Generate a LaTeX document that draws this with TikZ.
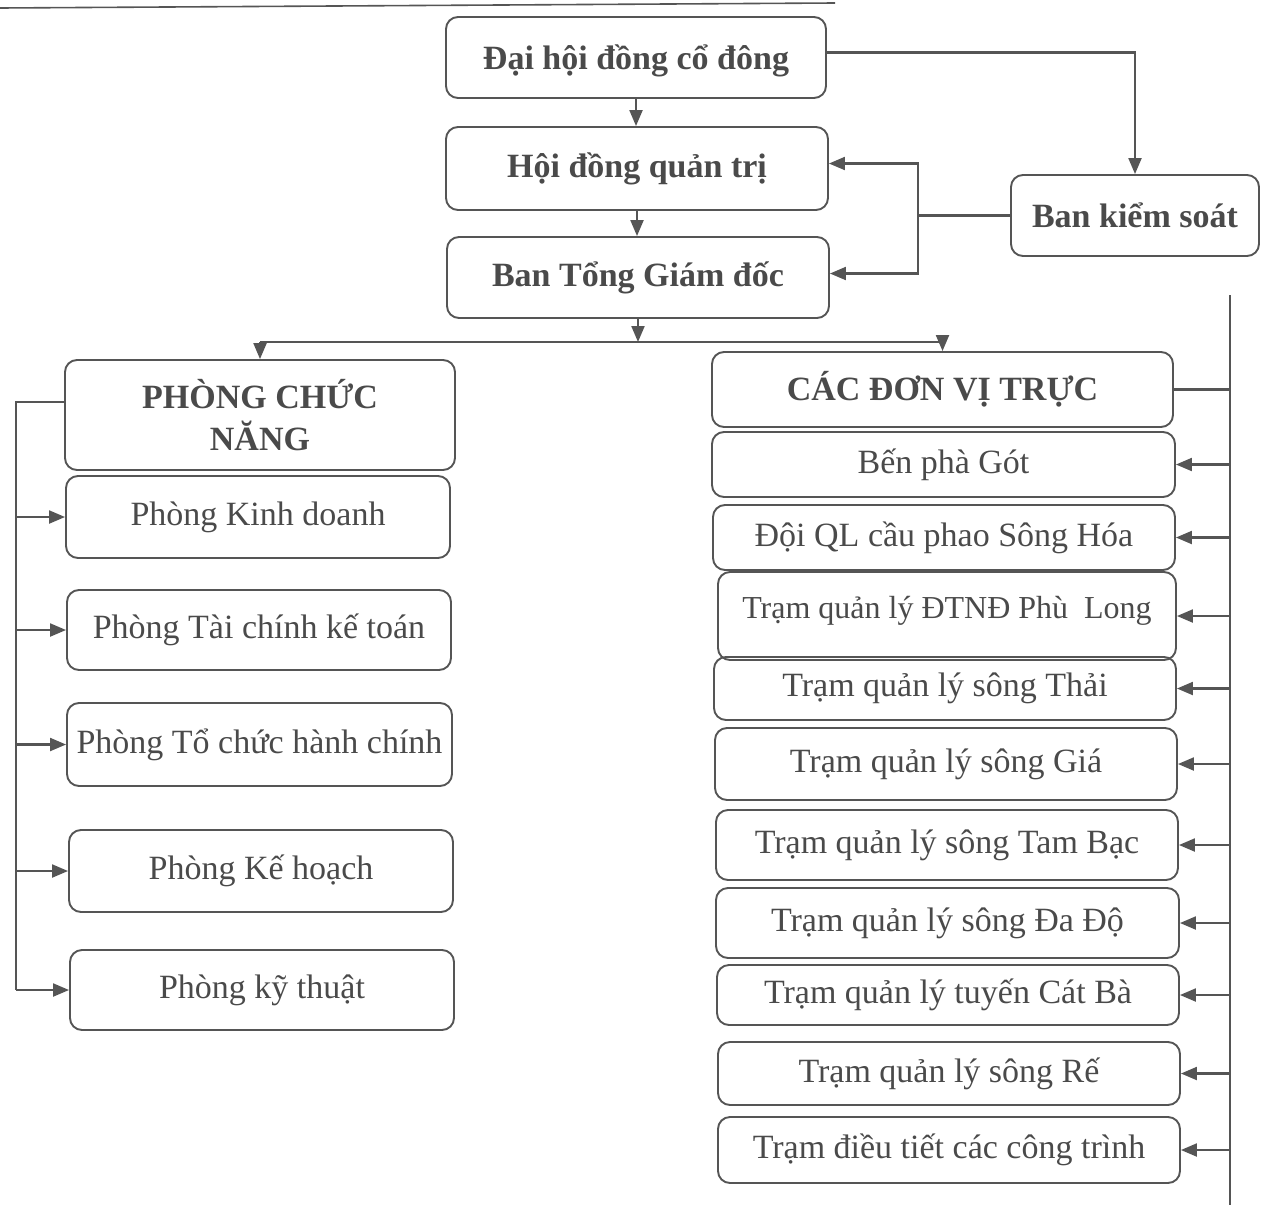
\documentclass[tikz,border=0pt]{standalone}
\usepackage{fontspec}
\setmainfont{Liberation Serif}
\usetikzlibrary{arrows.meta}
\definecolor{linecol}{HTML}{555555}
\definecolor{txtcol}{HTML}{4A4A4A}
\tikzset{
  box/.style={draw=linecol, line width=1.9pt, rounded corners=12pt, text=txtcol,
    inner sep=0pt, align=center, font=\fontsize{34}{42}\selectfont},
  bbox/.style={box, font=\fontsize{34}{42}\selectfont\bfseries},
  conn/.style={draw=linecol, line width=2.1pt},
  arr/.style={conn, -{Triangle[length=16pt,width=13pt]}}
}
\begin{document}
\begin{tikzpicture}[x=1pt,y=-1pt]
\useasboundingbox (0,0) rectangle (1261,1205);
% scanned header rule
\coordinate (hl) at (0,8);
\coordinate (hr) at (835,3);
\draw[conn, line width=1.6pt] (hl) -- (hr);

% top hierarchy
\node[bbox, minimum width=380pt, minimum height=81pt] (dh) at (636,57.5) {Đại hội đồng cổ đông\\[-1.2em]\mbox{}};
\node[bbox, minimum width=382pt, minimum height=83pt] (hdqt) at (637,168.5) {Hội đồng quản trị};
\node[bbox, minimum width=382pt, minimum height=81pt] (btgd) at (638,277.5) {Ban Tổng Giám đốc};
\node[bbox, minimum width=248pt, minimum height=81pt] (bks) at (1135,215.5) {Ban kiểm soát};

% left column
\node[bbox, minimum width=390pt, minimum height=110pt] (pcn) at (260,415) {PHÒNG CHỨC\\NĂNG};
\node[box, minimum width=384pt, minimum height=82pt] (pkd) at (258,517) {Phòng Kinh doanh};
\node[box, minimum width=384pt, minimum height=80pt] (ptc) at (259,630) {Phòng Tài chính kế toán};
\node[box, minimum width=385pt, minimum height=83pt] (ptchc) at (259.5,744.5) {Phòng Tổ chức hành chính};
\node[box, minimum width=384pt, minimum height=82pt] (pkh) at (261,871) {Phòng Kế hoạch};
\node[box, minimum width=384pt, minimum height=80pt] (pkt) at (262,990) {Phòng kỹ thuật};

% right column
\node[bbox, minimum width=461pt, minimum height=75pt] (cdv) at (942.5,389.5) {CÁC ĐƠN VỊ TRỰC};
\node[box, minimum width=463pt, minimum height=65pt] (bpg) at (943.5,464.5) {Bến phà Gót};
\node[box, minimum width=462pt, minimum height=65pt] (dql) at (944,537.5) {Đội QL cầu phao Sông Hóa};
\node[box, minimum width=458pt, minimum height=88pt, font=\fontsize{32}{40}\selectfont] (tpl) at (947,616) {Trạm quản lý ĐTNĐ Phù~ Long\\[-0.7em]\mbox{}};
\node[box, minimum width=462pt, minimum height=63pt] (tst) at (945,688.5) {Trạm quản lý sông Thải};
\node[box, minimum width=462pt, minimum height=72pt] (tsg) at (946,764) {Trạm quản lý sông Giá};
\node[box, minimum width=462pt, minimum height=70pt] (ttb) at (947,845) {Trạm quản lý sông Tam Bạc};
\node[box, minimum width=463pt, minimum height=70pt] (tdd) at (947.5,923) {Trạm quản lý sông Đa Độ};
\node[box, minimum width=462pt, minimum height=60pt] (tcb) at (948,995) {Trạm quản lý tuyến Cát Bà};
\node[box, minimum width=462pt, minimum height=63pt] (tsr) at (949,1073.5) {Trạm quản lý sông Rế};
\node[box, minimum width=462pt, minimum height=66pt] (tdt) at (949,1150) {Trạm điều tiết các công trình};

% vertical chain
\draw[arr] (dh.south) -- (dh.south |- hdqt.north);
\draw[arr] (hdqt.south) -- (hdqt.south |- btgd.north);

% to Ban kiểm soát
\draw[arr] ([yshift=5pt]dh.east) -| (bks.north);

% Ban kiểm soát feedback
\coordinate (kj) at (918,215.5);
\draw[conn] (bks.west) -- (kj);
\draw[arr] (kj) |- ([yshift=5pt]hdqt.east);
\draw[arr] (kj) |- ([yshift=4pt]btgd.east);

% split to two branches
\coordinate (sb) at (638,342);
\draw[arr] (btgd.south) -- (sb);
\draw[conn] (pcn.north |- sb) -- (cdv.north |- sb);
\draw[arr] (pcn.north |- sb) -- (pcn.north);
\draw[arr] (cdv.north |- sb) -- (cdv.north);

% left bus
\coordinate (lb) at (16,402);
\draw[conn] ([yshift=13pt]pcn.west) -- (lb) -- (lb |- pkt.west);
\foreach \n in {pkd,ptc,ptchc,pkh,pkt}{
  \draw[arr] (lb |- \n.west) -- (\n.west);
}

% right bus
\coordinate (rbt) at (1230,295);
\coordinate (rbb) at (1230,1205);
\draw[conn] (rbt) -- (rbb);
\draw[conn] (cdv.east) -- (cdv.east -| rbt);
\foreach \n in {bpg,dql,tpl,tst,tsg,ttb,tdd,tcb,tsr,tdt}{
  \draw[arr] (rbt |- \n.east) -- (\n.east);
}
\end{tikzpicture}
\end{document}
